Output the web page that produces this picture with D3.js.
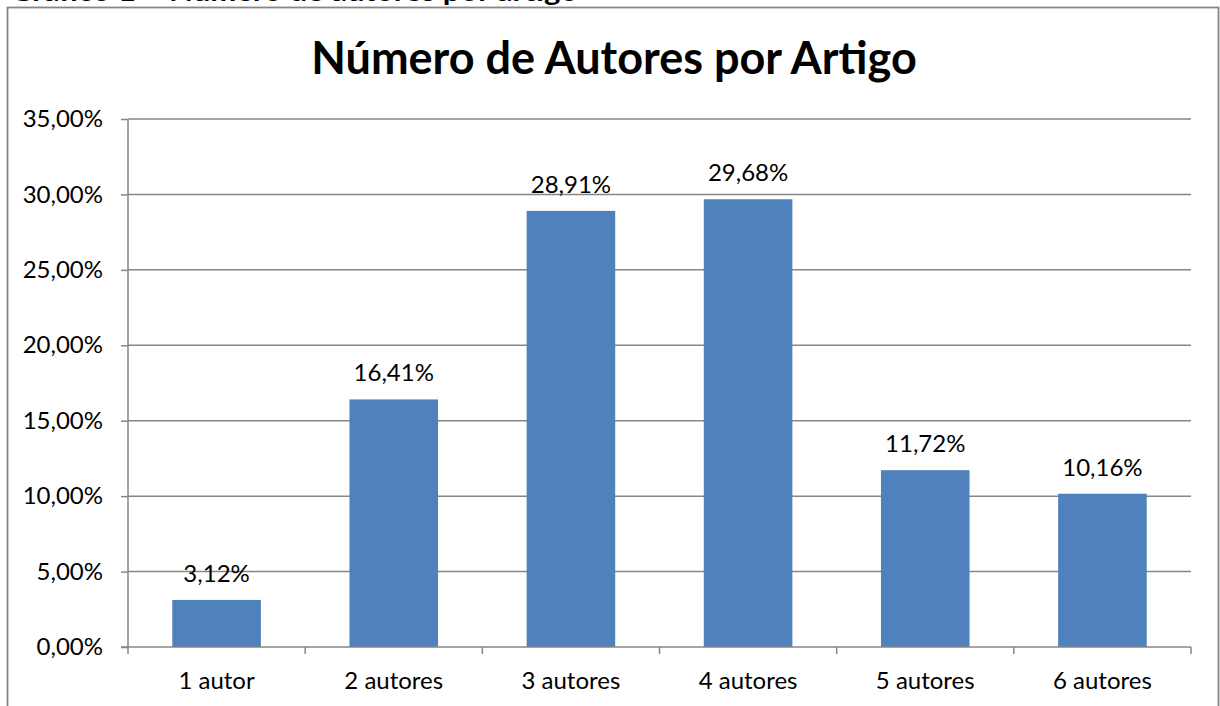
<!DOCTYPE html>
<html>
<head>
<meta charset="utf-8">
<script src="https://cdn.jsdelivr.net/npm/d3@7"></script>
<style>
  body { margin: 0; background: #fff; }
  svg { display: block; font-family: Lato, "Open Sans", sans-serif; }
</style>
</head>
<body>
<div id="chart"></div>
<script>
var categories = ["1 autor", "2 autores", "3 autores", "4 autores", "5 autores", "6 autores"];
var values = [3.12, 16.41, 28.91, 29.68, 11.72, 10.16];
var yTicks = [0, 5, 10, 15, 20, 25, 30, 35];

var width = 1220, height = 706;
var plotLeft = 128, plotRight = 1191, plotTop = 119, plotBottom = 647;

function fmt(v) { return v.toFixed(2).replace(".", ",") + "%"; }

var svg = d3.select("#chart").append("svg")
    .attr("width", width)
    .attr("height", height);

// caption cut off at the top of the page
svg.append("text")
    .attr("x", 10)
    .attr("y", 0.5)
    .attr("font-family", "Lato")
    .attr("font-weight", "bold")
    .attr("font-size", "26px")
    .attr("textLength", 568)
    .attr("lengthAdjust", "spacingAndGlyphs")
    .attr("fill", "#000")
    .text("Gráfico 1 – Número de autores por artigo");

// outer frame
svg.append("rect")
    .attr("x", 7.5).attr("y", 7.5)
    .attr("width", 1211).attr("height", 720)
    .attr("fill", "#fff")
    .attr("stroke", "#868686")
    .attr("stroke-width", 1.8);

// title
svg.append("text")
    .attr("x", 614)
    .attr("y", 74)
    .attr("text-anchor", "middle")
    .attr("font-weight", "bold")
    .attr("font-size", "45px")
    .text("Número de Autores por Artigo");

var x = d3.scaleBand().domain(categories).range([plotLeft, plotRight]).paddingInner(0.5).paddingOuter(0.25);
var xBand = d3.scaleBand().domain(categories).range([plotLeft, plotRight]);
var y = d3.scaleLinear().domain([0, 35]).range([plotBottom, plotTop]);

// gridlines
svg.append("g")
    .selectAll("line")
    .data(yTicks.slice(1))
    .enter().append("line")
    .attr("x1", plotLeft).attr("x2", plotRight)
    .attr("y1", function(d) { return y(d); })
    .attr("y2", function(d) { return y(d); })
    .attr("stroke", "#868686")
    .attr("stroke-width", 1.5);

// y axis
var yAxis = svg.append("g")
    .attr("transform", "translate(" + plotLeft + ",0)")
    .call(d3.axisLeft(y).tickValues(yTicks).tickFormat(fmt).tickSize(7).tickPadding(18));
yAxis.select(".domain").attr("stroke", "#868686").attr("stroke-width", 1.5).attr("d", "M0," + plotBottom + "V" + plotTop);
yAxis.selectAll(".tick line").attr("stroke", "#868686").attr("stroke-width", 1.5);
yAxis.selectAll("text").attr("font-size", "24px").attr("font-family", "Lato").attr("fill", "#000");

// bars
svg.selectAll("rect.bar")
    .data(values)
    .enter().append("rect")
    .attr("class", "bar")
    .attr("x", function(d, i) { return x(categories[i]); })
    .attr("y", function(d) { return y(d); })
    .attr("width", x.bandwidth())
    .attr("height", function(d) { return plotBottom - y(d); })
    .attr("fill", "#4F81BD");

// data labels
svg.selectAll("text.label")
    .data(values)
    .enter().append("text")
    .attr("class", "label")
    .attr("x", function(d, i) { return x(categories[i]) + x.bandwidth() / 2; })
    .attr("y", function(d) { return y(d) - 18; })
    .attr("text-anchor", "middle")
    .attr("font-size", "24px")
    .text(fmt);

// x axis
var xAxis = svg.append("g")
    .attr("transform", "translate(0," + plotBottom + ")");
xAxis.append("line")
    .attr("x1", plotLeft - 7).attr("x2", plotRight)
    .attr("stroke", "#868686").attr("stroke-width", 1.5);
xAxis.selectAll("line.tick")
    .data(categories.concat([null]))
    .enter().append("line")
    .attr("class", "tick")
    .attr("x1", function(d) { return d ? xBand(d) : plotRight; })
    .attr("x2", function(d) { return d ? xBand(d) : plotRight; })
    .attr("y1", 0).attr("y2", 7)
    .attr("stroke", "#868686").attr("stroke-width", 1.5);
xAxis.selectAll("text")
    .data(categories)
    .enter().append("text")
    .attr("x", function(d) { return xBand(d) + xBand.bandwidth() / 2; })
    .attr("y", 42)
    .attr("text-anchor", "middle")
    .attr("font-size", "24px")
    .text(function(d) { return d; });
</script>
</body>
</html>
